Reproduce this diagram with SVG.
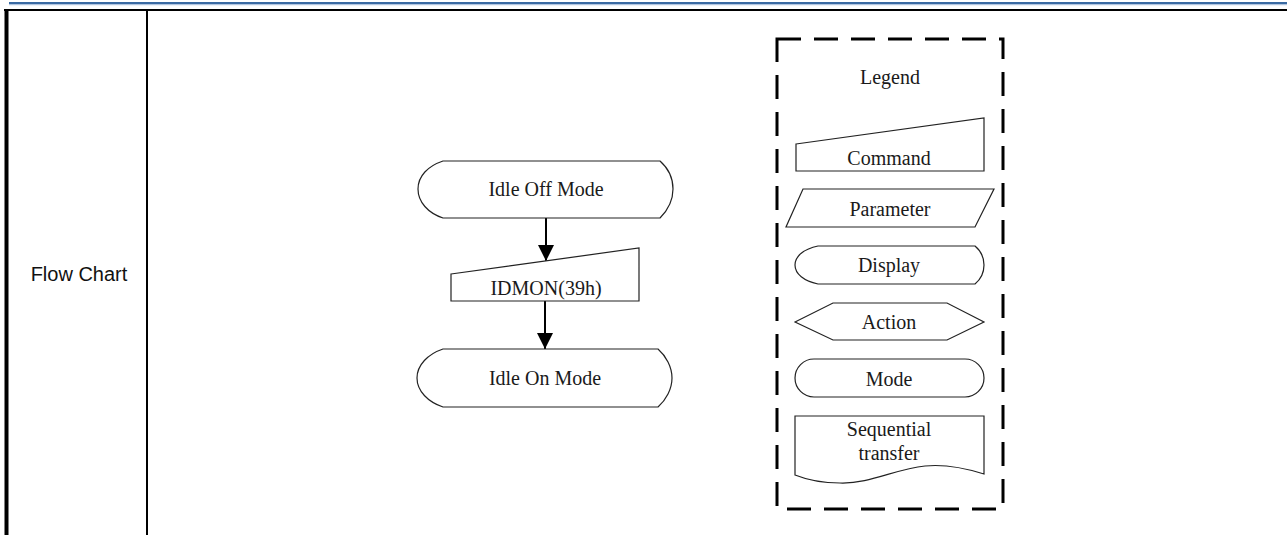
<svg xmlns="http://www.w3.org/2000/svg" width="1287" height="535" viewBox="0 0 1287 535">
<style>
.t{font-family:"Liberation Serif","Times New Roman",serif;font-size:20px;fill:#1a1a1a;text-anchor:middle}
.s{fill:#fff;stroke:#222;stroke-width:1.2}
.c{stroke:#000;stroke-width:2;fill:none}
</style>
<defs>
<marker id="ah" markerUnits="userSpaceOnUse" markerWidth="16" markerHeight="16" viewBox="0 0 16 16" refX="16" refY="8" orient="auto">
<path d="M0,0 L16,8 L0,16 Z" fill="#000"/>
</marker>
</defs>
<rect width="1287" height="535" fill="#fff"/>
<g id="header">
<rect x="9" y="2" width="1278" height="2.2" fill="#3a6aa2"/>
<rect x="9" y="4.2" width="1278" height="1" fill="#a9bfdb"/>
</g>
<g id="table">
<rect x="4" y="9" width="1283" height="2" fill="#000"/>
<rect x="4.5" y="9" width="4" height="526" fill="#000"/>
<rect x="146" y="9" width="2" height="526" fill="#000"/>
<text x="79" y="281" style="font-family:'Liberation Sans',Arial,sans-serif;font-size:20px;fill:#111;text-anchor:middle">Flow Chart</text>
</g>
<g id="connectors">
<line class="c" x1="546" y1="218" x2="546" y2="261" marker-end="url(#ah)"/>
<line class="c" x1="545" y1="301" x2="545" y2="349" marker-end="url(#ah)"/>
</g>
<g id="idle-off">
<path class="s" d="M443,161 H660 C668,168 673,178 673,189 C673,200 668,210 660,218 H443 C428,213 418,202 418,189 C418,176 428,166 443,161 Z"/>
<text class="t" x="546" y="196">Idle Off Mode</text>
</g>
<g id="idmon">
<path class="s" d="M451,274 L639,248 L639,301 L451,301 Z"/>
<text class="t" x="546" y="295">IDMON(39h)</text>
</g>
<g id="idle-on">
<path class="s" d="M443,349 H658 C666,356 672,367 672,378 C672,389 666,400 658,407 H443 C428,402 417,391 417,378 C417,365 428,354 443,349 Z"/>
<text class="t" x="545" y="385">Idle On Mode</text>
</g>
<g id="legend">
<rect x="777" y="39" width="226" height="470" fill="none" stroke="#000" stroke-width="3" stroke-dasharray="24 13"/>
<text class="t" x="890" y="84">Legend</text>
</g>
<g id="legend-command">
<path class="s" d="M796,144 L984,118 L984,171 L796,171 Z"/>
<text class="t" x="889" y="165">Command</text>
</g>
<g id="legend-parameter">
<path class="s" d="M803,189 L994,189 L975,227 L786,227 Z"/>
<text class="t" x="890" y="216">Parameter</text>
</g>
<g id="legend-display">
<path class="s" d="M818,246 H975 C981,251 984,258 984,265 C984,272 981,279 975,284 H818 C804,281 795,274 795,265 C795,256 804,249 818,246 Z"/>
<text class="t" x="889" y="272">Display</text>
</g>
<g id="legend-action">
<path class="s" d="M795,322 L833,303 L947,303 L984,322 L947,340 L833,340 Z"/>
<text class="t" x="889" y="329">Action</text>
</g>
<g id="legend-mode">
<rect class="s" x="795" y="359" width="189" height="38" rx="19" ry="19"/>
<text class="t" x="889" y="386">Mode</text>
</g>
<g id="legend-sequential">
<path class="s" d="M795,416 H984 V474 C965,468 945,464 925,466 C895,469 870,484 840,483 C820,483 805,479 795,475 Z"/>
<text class="t" x="889" y="436">Sequential</text>
<text class="t" x="889" y="460">transfer</text>
</g>
</svg>
